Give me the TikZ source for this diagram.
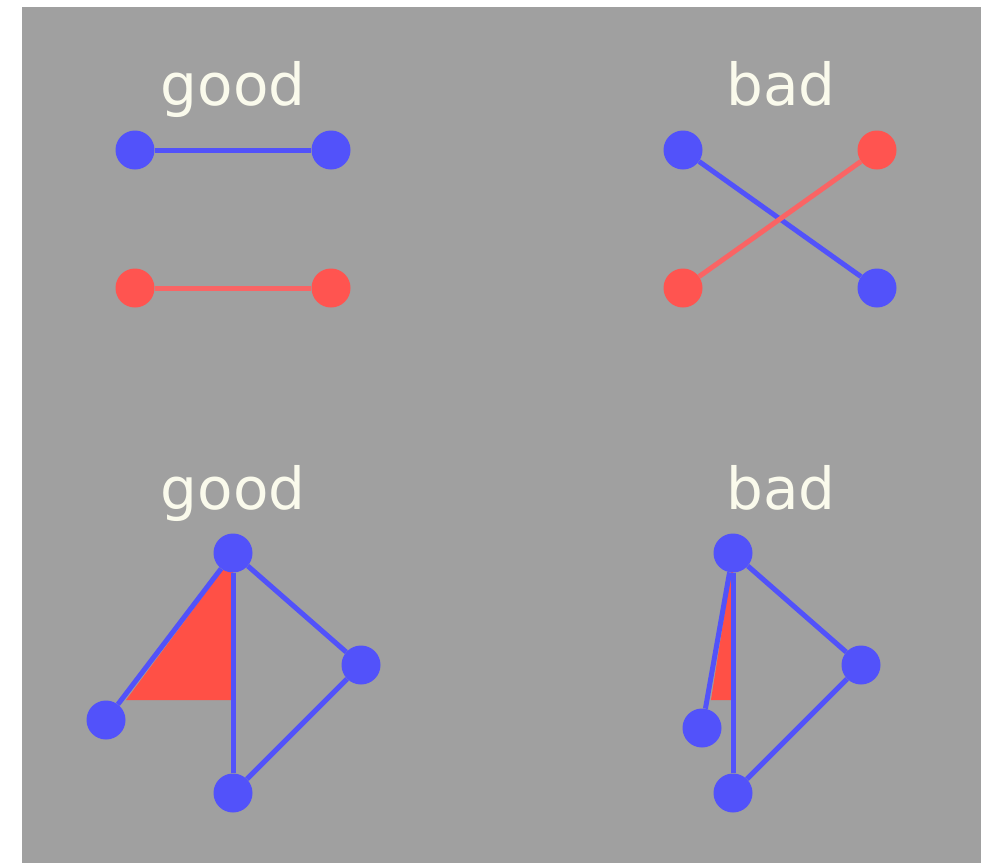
\documentclass[tikz,border=0pt]{standalone}
\usepackage{fontspec}
\setmainfont{DejaVu Sans}
\definecolor{bg}{RGB}{160,160,160}
\definecolor{dotblue}{RGB}{82,82,250}
\definecolor{dotred}{RGB}{255,84,80}
\definecolor{linered}{RGB}{250,100,100}
\definecolor{fillred}{RGB}{255,80,70}
\definecolor{txt}{RGB}{250,250,236}
\begin{document}
\begin{tikzpicture}[x=1pt,y=-1pt,
  bdot/.style={circle,fill=dotblue,inner sep=0pt,minimum size=39pt},
  rdot/.style={circle,fill=dotred,inner sep=0pt,minimum size=39pt},
  bline/.style={draw=dotblue,line width=5pt},
  rline/.style={draw=linered,line width=5pt},
  lbl/.style={text=txt,font=\fontsize{58}{60}\selectfont,anchor=base,inner sep=0pt}]
\useasboundingbox (0,0) rectangle (991,863);
\fill[white] (0,0) rectangle (991,863);
\fill[bg] (22,7) rectangle (981,863);
% labels
\node[lbl] (g1) at (233,105) {good};
\node[lbl] (b1) at (781,105) {bad};
\node[lbl] (g2) at (233,509) {good};
\node[lbl] (b2) at (781,509) {bad};
% top-left
\node[bdot] (a1) at (135,150) {};
\node[bdot] (a2) at (331,150) {};
\node[rdot] (a3) at (135,288) {};
\node[rdot] (a4) at (331,288) {};
\draw[bline] (a1) -- (a2);
\draw[rline] (a3) -- (a4);
% top-right
\node[bdot] (c1) at (683,150) {};
\node[bdot] (c2) at (877,288) {};
\node[rdot] (c3) at (877,150) {};
\node[rdot] (c4) at (683,288) {};
\draw[bline] (c1) -- (c2);
\draw[rline] (c4) -- (c3);
% bottom-left
\fill[fillred] (233,556) -- (126,700) -- (233,700) -- cycle;
\node[bdot] (d1) at (233,553) {};
\node[bdot] (d2) at (361,665) {};
\node[bdot] (d3) at (106,720) {};
\node[bdot] (d4) at (233,793) {};
\draw[bline] (d1) -- (d3);
\draw[bline] (d1) -- (d4);
\draw[bline] (d1) -- (d2);
\draw[bline] (d2) -- (d4);
% bottom-right
\fill[fillred] (733,560) -- (711,700) -- (733,700) -- cycle;
\node[bdot] (e1) at (733,553) {};
\node[bdot] (e2) at (861,665) {};
\node[bdot] (e3) at (702,728) {};
\node[bdot] (e4) at (733,793) {};
\draw[bline] (e1) -- (e3);
\draw[bline] (e1) -- (e4);
\draw[bline] (e1) -- (e2);
\draw[bline] (e2) -- (e4);
\end{tikzpicture}
\end{document}
